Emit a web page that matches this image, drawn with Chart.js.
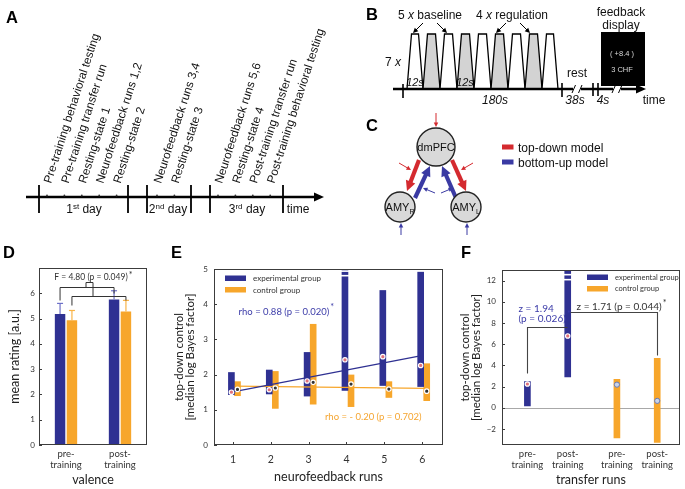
<!DOCTYPE html>
<html><head><meta charset="utf-8">
<script src="https://cdn.jsdelivr.net/npm/chart.js@4.4.1/dist/chart.umd.min.js"></script>
<style>
html,body{margin:0;padding:0;background:#fff;}
body{width:685px;height:489px;position:relative;overflow:hidden;}
canvas{position:absolute;}
#diag{position:absolute;left:0;top:0;pointer-events:none;}
</style></head><body>
<canvas id="cD" width="170" height="249" style="left:0;top:240px"></canvas>
<canvas id="cE" width="290" height="249" style="left:165px;top:240px"></canvas>
<canvas id="cF" width="230" height="249" style="left:455px;top:240px"></canvas>
<svg id="diag" width="685" height="489" xmlns="http://www.w3.org/2000/svg"></svg>
<script>
// ---------------- data ----------------
// Panel A: timeline events per day
const aDay1 = ['Pre-training behavioral testing','Pre-training transfer run','Resting-state 1','Neurofeedback runs 1,2','Resting-state 2'];
const aDay2 = ['Neurofeedback runs 3,4','Resting-state 3'];
const aDay3 = ['Neurofeedback runs 5,6','Resting-state 4','Post-training transfer run','Post-training behavioral testing'];
const aDays = [['1','st',' day'],['2','nd',' day'],['3','rd',' day']];

// Panel D: mean rating (valence)
const dCategories = [['pre-','training'],['post-','training']];
const dExpMean = [5.18, 5.75];
const dExpErr  = [5.60, 6.10];
const dCtlMean = [4.93, 5.28];
const dCtlErr  = [5.32, 5.72];

// Panel E: top-down control per neurofeedback run
const eRuns = [1, 2, 3, 4, 5, 6];
const eExpLow    = [1.43, 1.45, 1.39, 1.55, 1.69, 1.66];
const eExpHigh   = [2.06, 2.13, 2.63, 5.00, 4.39, 4.91];
const eExpMedian = [1.50, 1.57, 1.82, 2.42, 2.51, 2.26];
const eCtlLow    = [1.40, 1.04, 1.16, 1.09, 1.35, 1.26];
const eCtlHigh   = [1.80, 2.09, 3.43, 1.99, 1.80, 2.31];
const eCtlMedian = [1.58, 1.62, 1.78, 1.73, 1.59, 1.53];
const eExpFit = [1.51, 2.53];
const eCtlFit = [1.67, 1.61];

// Panel F: transfer runs
const fLabels = [['pre-','training'],['post-','training'],['pre-','training'],['post-','training']];
const fExpLow    = [0.19, 2.93];
const fExpHigh   = [2.47, 13.0];
const fExpMedian = [2.25, 6.78];
const fCtlLow    = [-2.84, -3.25];
const fCtlHigh   = [2.69, 4.66];
const fCtlMedian = [2.19, 0.66];
const fYTicks = [-2, 0, 2, 4, 6, 8, 10, 12];

// ---------------- styles ----------------
const BLUE = '#2f3192', BLUE_ERR = '#6d70c8', ORANGE = '#f7a62b', ORANGE_ERR = '#f9b446';
const BLUE_TXT = '#3b3ba8', ORANGE_TXT = '#f5a530';
const FRAME = '#3c3c3c';
const FONT = 'Lato, "Open Sans", sans-serif';

function framePlugin(xTicks){
  return {id:'frame', afterDraw(chart){
    const ctx = chart.ctx, a = chart.chartArea;
    ctx.save();
    ctx.strokeStyle = FRAME; ctx.lineWidth = 1;
    ctx.strokeRect(Math.round(a.left)+0.5, Math.round(a.top)+0.5, Math.round(a.right-a.left)-1, Math.round(a.bottom-a.top)-1);
    const ys = chart.scales.y;
    ys.ticks.forEach(t=>{ const p = Math.round(ys.getPixelForValue(t.value))+0.5;
      ctx.beginPath(); ctx.moveTo(a.left, p); ctx.lineTo(a.left+3, p); ctx.stroke(); });
    if (xTicks){ const xs = chart.scales.x;
      xs.ticks.forEach(t=>{ const p = Math.round(xs.getPixelForValue(t.value))+0.5;
        ctx.beginPath(); ctx.moveTo(p, a.bottom); ctx.lineTo(p, a.bottom-3); ctx.stroke(); }); }
    ctx.restore();
  }};
}
function seg(ctx,x1,y1,x2,y2){ctx.beginPath();ctx.moveTo(x1,y1);ctx.lineTo(x2,y2);ctx.stroke();}
function poly(ctx,pts){ctx.beginPath();ctx.moveTo(pts[0][0],pts[0][1]);for(let i=1;i<pts.length;i++)ctx.lineTo(pts[i][0],pts[i][1]);ctx.stroke();}
function star(ctx,x,y,color){ctx.save();ctx.font='9px '+FONT;ctx.fillStyle=color;ctx.textAlign='left';ctx.textBaseline='middle';ctx.fillText('*',x,y);ctx.restore();}
function legendBoxes(ctx, x, y, items, size){
  ctx.save(); ctx.font = (size||8)+'px '+FONT; ctx.textBaseline='middle'; ctx.textAlign='left';
  items.forEach((it,i)=>{ const yy = y + i*11.5; ctx.fillStyle = it.color; ctx.fillRect(x, yy-2.5, 21, 5.5);
    ctx.fillStyle = '#333'; ctx.fillText(it.text, x+28, yy+0.5); });
  ctx.restore();
}
function breakMarks(ctx, x, yPix, w){
  ctx.save(); ctx.strokeStyle='#fff'; ctx.lineWidth=1.6;
  yPix.forEach(p=>seg(ctx, x-w/2-1, p, x+w/2+1, p)); ctx.restore();
}
const commonTickFont = {family: FONT, size: 8};

// ---------------- Panel D ----------------
const dExtras = {id:'dExtras', afterDatasetsDraw(chart){
  const ctx = chart.ctx, y = chart.scales.y;
  const errs = [dExpErr, dCtlErr], cols = [BLUE_ERR, ORANGE_ERR];
  ctx.save();
  [0,1].forEach(di=>{
    chart.getDatasetMeta(di).data.forEach((bar,j)=>{
      const yt = y.getPixelForValue(errs[di][j]);
      ctx.strokeStyle = cols[di]; ctx.lineWidth = 1.2;
      seg(ctx, bar.x, bar.y, bar.x, yt); seg(ctx, bar.x-3, yt, bar.x+3, yt);
    });
  });
  const b0 = chart.getDatasetMeta(0).data, b1 = chart.getDatasetMeta(1).data;
  ctx.strokeStyle = '#333'; ctx.lineWidth = 1;
  const Y = v=>Math.round(y.getPixelForValue(v))+0.5;
  poly(ctx, [[b0[0].x, Y(5.75)],[b0[0].x, Y(6.23)],[b0[1].x, Y(6.23)],[b0[1].x, Y(6.03)]]);
  poly(ctx, [[b1[0].x, Y(5.55)],[b1[0].x, Y(5.91)],[b1[1].x, Y(5.91)],[b1[1].x, Y(5.75)]]);
  const cx = (b0[0].x + b1[1].x)/2;
  poly(ctx, [[cx-7, Y(6.23)],[cx-7, Y(6.43)],[cx, Y(6.43)],[cx, Y(5.91)]]);
  ctx.font = '8.5px '+FONT; ctx.fillStyle = '#333'; ctx.textAlign='center'; ctx.textBaseline='middle';
  const tx = (b0[0].x + b1[1].x)/2 - 2;
  ctx.fillText('F = 4.80 (p = 0.049)', tx, y.getPixelForValue(6.63));
  const w = ctx.measureText('F = 4.80 (p = 0.049)').width;
  star(ctx, tx + w/2 + 1, y.getPixelForValue(6.73), '#333');
  ctx.restore();
}};
new Chart(document.getElementById('cD'), {
  type: 'bar',
  data: {labels: dCategories, datasets: [
    {label:'experimental group', data: dExpMean, backgroundColor: BLUE, categoryPercentage: 0.44, barPercentage: 0.88},
    {label:'control group', data: dCtlMean, backgroundColor: ORANGE, categoryPercentage: 0.44, barPercentage: 0.88}
  ]},
  options: {
    responsive:false, animation:false, devicePixelRatio:1,
    layout:{padding:{left:0, top:28, right:23, bottom:0}},
    scales:{
      x:{grid:{display:false, drawTicks:false}, border:{display:false},
         ticks:{font:{family:FONT,size:9.5}, color:'#333', padding:3},
         title:{display:true, text:'valence', font:{family:FONT,size:12.5}, color:'#222', padding:{top:0,bottom:1.5}},
         afterFit:s=>{s.height=44;}},
      y:{min:0, max:7, ticks:{stepSize:1, font:commonTickFont, color:'#333', padding:4},
         afterBuildTicks:s=>{s.ticks = s.ticks.filter(t=>t.value<=6);},
         grid:{display:false, drawTicks:false}, border:{display:false},
         title:{display:true, text:'mean rating [a.u.]', font:{family:FONT,size:12.5}, color:'#222', padding:{top:7.5,bottom:0}},
         afterFit:s=>{s.width=39;}}
    },
    plugins:{legend:{display:false}, tooltip:{enabled:false}}
  },
  plugins:[framePlugin(false), dExtras]
});

// ---------------- Panel E ----------------
const eExtras = {id:'eExtras', afterDatasetsDraw(chart){
  const ctx = chart.ctx, a = chart.chartArea, x = chart.scales.x, y = chart.scales.y;
  breakMarks(ctx, x.getPixelForValue(4-0.04), [y.getPixelForValue(4.94), y.getPixelForValue(4.81)], 6);
  legendBoxes(ctx, a.left+11, a.top+9, [{color:BLUE, text:'experimental group'},{color:ORANGE, text:'control group'}], 8);
  ctx.save(); ctx.font = '9.5px '+FONT; ctx.textBaseline='middle'; ctx.textAlign='left';
  ctx.fillStyle = BLUE_TXT;
  const t1 = 'rho = 0.88 (p = 0.020)', x1 = x.getPixelForValue(1.15), y1 = y.getPixelForValue(3.79);
  ctx.fillText(t1, x1, y1); star(ctx, x1 + ctx.measureText(t1).width + 1, y1-4, BLUE_TXT);
  ctx.font = '9.5px '+FONT; ctx.fillStyle = ORANGE_TXT;
  ctx.fillText('rho = - 0.20 (p = 0.702)', x.getPixelForValue(3.43), y.getPixelForValue(0.80));
  ctx.restore();
}};
new Chart(document.getElementById('cE'), {
  type: 'bar',
  data: {datasets: [
    {type:'line', data:[{x:1.0, y:eExpFit[0]},{x:5.95, y:eExpFit[1]}], borderColor:BLUE, borderWidth:1.3, pointRadius:0, order:1},
    {type:'line', data:[{x:1.05, y:eCtlFit[0]},{x:6.1, y:eCtlFit[1]}], borderColor:ORANGE, borderWidth:1.3, pointRadius:0, order:1},
    {type:'bar', label:'experimental group', data: eRuns.map((r,i)=>({x:r-0.04, y:[eExpLow[i], eExpHigh[i]]})), backgroundColor:BLUE, barThickness:6, grouped:false, order:2},
    {type:'bar', label:'control group', data: eRuns.map((r,i)=>({x:r+0.12, y:[eCtlLow[i], eCtlHigh[i]]})), backgroundColor:ORANGE, barThickness:6, grouped:false, order:2},
    {type:'scatter', data: eRuns.map((r,i)=>({x:r-0.04, y:eExpMedian[i]})), pointRadius:2.2, pointBackgroundColor:'#e0707a', pointBorderColor:'#fff', pointBorderWidth:1.2, order:0},
    {type:'scatter', data: eRuns.map((r,i)=>({x:r+0.12, y:eCtlMedian[i]})), pointRadius:2.2, pointBackgroundColor:'#333', pointBorderColor:'#fff', pointBorderWidth:1.2, order:0}
  ]},
  options: {
    responsive:false, animation:false, devicePixelRatio:1,
    layout:{padding:{left:0, top:29, right:12, bottom:0}},
    scales:{
      x:{type:'linear', min:0.5, max:6.55, offset:false,
         afterBuildTicks:s=>{s.ticks = eRuns.map(v=>({value:v}));},
         grid:{display:false, drawTicks:false}, border:{display:false},
         ticks:{font:{family:FONT,size:10.5}, color:'#333', padding:8},
         title:{display:true, text:'neurofeedback runs', font:{family:FONT,size:12.5}, color:'#222', padding:{top:0,bottom:4.5}},
         afterFit:s=>{s.height=44;}},
      y:{min:0, max:5, ticks:{stepSize:1, font:commonTickFont, color:'#333', padding:6},
         grid:{display:false, drawTicks:false}, border:{display:false},
         title:{display:true, text:['top-down control','[median log Bayes factor]'], font:{family:FONT,size:11.5,lineHeight:1}, color:'#222', padding:{top:8.5,bottom:0}},
         afterFit:s=>{s.width=49;}}
    },
    plugins:{legend:{display:false}, tooltip:{enabled:false}}
  },
  plugins:[framePlugin(true), eExtras]
});

// ---------------- Panel F ----------------
const fSlotsExp = [1, 2], fSlotsCtl = [3.22, 4.22];
const fExtras = {
  id:'fExtras',
  beforeDatasetsDraw(chart){
    const ctx = chart.ctx, a = chart.chartArea, y = chart.scales.y;
    const p = Math.round(y.getPixelForValue(0))+0.5;
    ctx.save(); ctx.strokeStyle = '#a8a8a8'; ctx.lineWidth = 1; seg(ctx, a.left, p, a.right, p); ctx.restore();
  },
  afterDatasetsDraw(chart){
    const ctx = chart.ctx, a = chart.chartArea, x = chart.scales.x, y = chart.scales.y;
    breakMarks(ctx, x.getPixelForValue(2), [y.getPixelForValue(12.56), y.getPixelForValue(12.09)], 6);
    legendBoxes(ctx, a.left+85, a.top+7, [{color:BLUE, text:'experimental group'},{color:ORANGE, text:'control group'}], 7.5);
    ctx.save(); ctx.strokeStyle = '#444'; ctx.lineWidth = 1.1;
    const X = v=>Math.round(x.getPixelForValue(v))+0.5, Y = v=>Math.round(y.getPixelForValue(v))+0.5;
    poly(ctx, [[X(1), Y(3.28)],[X(1), Y(7.59)],[X(1.97), Y(7.59)]]);
    poly(ctx, [[X(2.05), Y(9.0)],[X(4.22), Y(9.0)],[X(4.22), Y(4.97)]]);
    ctx.font = '10px '+FONT; ctx.textBaseline='middle'; ctx.textAlign='left';
    ctx.fillStyle = BLUE_TXT;
    const lx = x.getPixelForValue(0.78);
    ctx.fillText('z = 1.94', lx, y.getPixelForValue(9.37));
    const t2 = '(p = 0.026)'; ctx.fillText(t2, lx, y.getPixelForValue(8.43));
    star(ctx, lx + ctx.measureText(t2).width + 1, y.getPixelForValue(8.85), BLUE_TXT);
    ctx.fillStyle = '#333';
    const t3 = 'z = 1.71 (p = 0.044)', x3 = x.getPixelForValue(2.22), y3 = y.getPixelForValue(9.5);
    ctx.fillText(t3, x3, y3); star(ctx, x3 + ctx.measureText(t3).width + 1, y3-4, '#333');
    ctx.restore();
  }
};
new Chart(document.getElementById('cF'), {
  type: 'bar',
  data: {datasets: [
    {type:'bar', label:'experimental group', data: fSlotsExp.map((s,i)=>({x:s, y:[fExpLow[i], fExpHigh[i]]})), backgroundColor:BLUE, barThickness:6, grouped:false, order:2},
    {type:'bar', label:'control group', data: fSlotsCtl.map((s,i)=>({x:s, y:[fCtlLow[i], fCtlHigh[i]]})), backgroundColor:ORANGE, barThickness:6, grouped:false, order:2},
    {type:'scatter', data: fSlotsExp.map((s,i)=>({x:s, y:fExpMedian[i]})), pointRadius:2.2, pointBackgroundColor:'#e0707a', pointBorderColor:'#fff', pointBorderWidth:1.2, order:0},
    {type:'scatter', data: fSlotsCtl.map((s,i)=>({x:s, y:fCtlMedian[i]})), pointRadius:2.6, pointBackgroundColor:'#c9d3ea', pointBorderColor:'#6a7bb0', pointBorderWidth:1, order:0}
  ]},
  options: {
    responsive:false, animation:false, devicePixelRatio:1,
    layout:{padding:{left:0, top:30, right:2, bottom:0}},
    scales:{
      x:{type:'linear', min:0.37, max:4.78, offset:false,
         afterBuildTicks:s=>{s.ticks = fSlotsExp.concat(fSlotsCtl).map(v=>({value:v}));},
         grid:{display:false, drawTicks:false}, border:{display:false},
         ticks:{font:{family:FONT,size:9.5}, color:'#333', padding:3, callback:(v,i)=>fLabels[i]},
         title:{display:true, text:'transfer runs', font:{family:FONT,size:12.5}, color:'#222', padding:{top:0,bottom:1.5}},
         afterFit:s=>{s.height=44;}},
      y:{min:-3.5, max:13,
         afterBuildTicks:s=>{s.ticks = fYTicks.map(v=>({value:v}));},
         ticks:{font:commonTickFont, color:'#333', padding:6, callback:v=>v<0?'\u2212'+Math.abs(v):String(v)},
         grid:{display:false, drawTicks:false}, border:{display:false},
         title:{display:true, text:['top-down control','[median log Bayes factor]'], font:{family:FONT,size:11.5,lineHeight:1}, color:'#222', padding:{top:4.5,bottom:0}},
         afterFit:s=>{s.width=47;}}
    },
    plugins:{legend:{display:false}, tooltip:{enabled:false}}
  },
  plugins:[framePlugin(false), fExtras]
});

// ---------------- Diagrams A, B, C (SVG) ----------------
const svg = document.getElementById('diag');
const NS = 'http://www.w3.org/2000/svg';
const SF = '"Liberation Sans", Arial, sans-serif';
function el(tag, attrs, parent){ const e = document.createElementNS(NS, tag); for (const k in attrs) e.setAttribute(k, attrs[k]); (parent||svg).appendChild(e); return e; }
function txt(x, y, parts, attrs){
  const t = el('text', Object.assign({x:x, y:y, 'font-family':SF, 'font-size':12, fill:'#111'}, attrs||{}));
  (Array.isArray(parts)?parts:[parts]).forEach(p=>{
    if (typeof p === 'string'){ const s = el('tspan', {}, t); s.textContent = p; }
    else { const s = el('tspan', p.a||{}, t); s.textContent = p.t; }
  });
  return t;
}
function arrow(x1,y1,x2,y2,color,w,hl,hw){
  const dx=x2-x1, dy=y2-y1, L=Math.hypot(dx,dy), ux=dx/L, uy=dy/L, px=-uy, py=ux;
  const bx=x2-ux*hl, by=y2-uy*hl;
  el('line',{x1:x1,y1:y1,x2:x2-ux*hl*0.6,y2:y2-uy*hl*0.6,stroke:color,'stroke-width':w});
  el('polygon',{points:`${x2},${y2} ${bx+px*hw/2},${by+py*hw/2} ${bx-px*hw/2},${by-py*hw/2}`,fill:color});
}
// panel letters
[['A',6,23],['B',366,19.5],['C',366,131],['D',3,258],['E',171,258],['F',461,258]].forEach(l=>txt(l[1],l[2],l[0],{'font-size':16.5,'font-weight':'bold',fill:'#000'}));

// ---- Panel A ----
const axY = 197;
el('line',{x1:26,y1:axY,x2:316,y2:axY,stroke:'#000','stroke-width':2.4});
el('polygon',{points:`324,${axY} 314,${axY-4.5} 314,${axY+4.5}`,fill:'#000'});
[39,128,147,191,210,283].forEach(x=>el('line',{x1:x,y1:185,x2:x,y2:213,stroke:'#000','stroke-width':1.8}));
[[aDay1,47],[aDay2,157],[aDay3,218]].forEach(([list,x0])=>{
  list.forEach((s,i)=>{
    const x = x0 + i*17.4;
    el('circle',{cx:x,cy:axY-1.5,r:0.9,fill:'#333'});
    txt(x+4, 184, s, {transform:`rotate(-72 ${x+4} 184)`, 'font-size':11.8});
  });
});
[[84,aDays[0]],[168,aDays[1]],[247,aDays[2]]].forEach(([cx,d])=>{
  txt(cx, 213, [d[0], {t:d[1], a:{'font-size':8, dy:-4}}, {t:d[2], a:{dy:4}}], {'text-anchor':'middle','font-size':12});
});
txt(298, 213, 'time', {'text-anchor':'middle','font-size':12});

// ---- Panel B ----
const bx = [407,423,440,457,474,491,508,525,542,558];
for (let i=0;i<9;i++){
  const l=bx[i], r=bx[i+1];
  el('polygon',{points:`${l},89 ${l+4.5},34 ${r-4.5},34 ${r},89`, fill: i%2 ? '#d3d3d3' : '#fff', stroke:'#000','stroke-width':1.3,'stroke-linejoin':'miter'});
}
el('line',{x1:393,y1:89,x2:638,y2:89,stroke:'#000','stroke-width':2.6});
el('polygon',{points:'646,89 636,84.5 636,93.5',fill:'#000'});
[[403,84,98],[562,83,97],[593,83,96],[598,83,96]].forEach(t=>el('line',{x1:t[0],y1:t[1],x2:t[0],y2:t[2],stroke:'#000','stroke-width':1.6}));
[577,617].forEach(cx=>{
  el('rect',{x:cx-4,y:85,width:8,height:8,fill:'#fff'});
  el('line',{x1:cx-5,y1:93,x2:cx-1.5,y2:85,stroke:'#000','stroke-width':1});
  el('line',{x1:cx+1.5,y1:93,x2:cx+5,y2:85,stroke:'#000','stroke-width':1});
});
txt(430, 19, ['5 ', {t:'x', a:{'font-style':'italic'}}, ' baseline'], {'text-anchor':'middle'});
txt(512, 19, ['4 ', {t:'x', a:{'font-style':'italic'}}, ' regulation'], {'text-anchor':'middle'});
arrow(423,23,413,33,'#000',1,5,5); arrow(437,23,447,33,'#000',1,5,5);
arrow(506,23,496,33,'#000',1,5,5); arrow(520,23,530,33,'#000',1,5,5);
txt(393, 66, ['7 ', {t:'x', a:{'font-style':'italic'}}], {'text-anchor':'middle'});
txt(415, 86, '12s', {'text-anchor':'middle','font-style':'italic','font-size':11});
txt(465, 86, '12s', {'text-anchor':'middle','font-style':'italic','font-size':11});
txt(495, 104, '180s', {'text-anchor':'middle','font-style':'italic'});
txt(577, 77, 'rest', {'text-anchor':'middle'});
txt(575, 104, '38s', {'text-anchor':'middle','font-style':'italic'});
txt(603, 104, '4s', {'text-anchor':'middle','font-style':'italic'});
txt(654, 104, 'time', {'text-anchor':'middle'});
el('rect',{x:601,y:32,width:44,height:54,fill:'#000'});
txt(621, 16, 'feedback', {'text-anchor':'middle'});
txt(621, 29, 'display', {'text-anchor':'middle'});
txt(622, 56, '( +8.4 )', {'text-anchor':'middle','font-size':7.5,fill:'#d8d8d8'});
txt(622, 72, '3 CHF', {'text-anchor':'middle','font-size':7.5,fill:'#d8d8d8'});

// ---- Panel C ----
const RED = '#d42a2f', CBLUE = '#3a3aa3';
arrow(419,160,407,191,RED,4.2,10,10);
arrow(452,160,466,191,RED,4.2,10,10);
arrow(415,198,430,166,CBLUE,4.2,10,10);
arrow(456,198,442,166,CBLUE,4.2,10,10);
el('circle',{cx:436,cy:147,r:19,fill:'#d9d9d9',stroke:'#222','stroke-width':1.4});
el('circle',{cx:400,cy:207,r:15,fill:'#d9d9d9',stroke:'#222','stroke-width':1.4});
el('circle',{cx:466,cy:207,r:15,fill:'#d9d9d9',stroke:'#222','stroke-width':1.4});
txt(436, 151, 'dmPFC', {'text-anchor':'middle','font-size':11});
txt(400, 211, ['AMY', {t:'R', a:{'font-size':7, dy:3}}], {'text-anchor':'middle','font-size':11});
txt(466, 211, ['AMY', {t:'L', a:{'font-size':7, dy:3}}], {'text-anchor':'middle','font-size':11});
arrow(436,113,436,127,RED,1,4.5,4.5);
arrow(399,163,411,170,RED,1,4.5,4.5);
arrow(473,163,461,170,RED,1,4.5,4.5);
arrow(401,235,401,223,CBLUE,1,4.5,4.5);
arrow(467,235,467,223,CBLUE,1,4.5,4.5);
arrow(435,193,423,188,CBLUE,1,4.5,4.5);
arrow(441,193,453,188,CBLUE,1,4.5,4.5);
el('rect',{x:502,y:144.5,width:11.5,height:5,fill:RED});
el('rect',{x:502,y:159.5,width:11.5,height:5,fill:CBLUE});
txt(518, 152, 'top-down model');
txt(518, 167, 'bottom-up model');
</script>
</body></html>
